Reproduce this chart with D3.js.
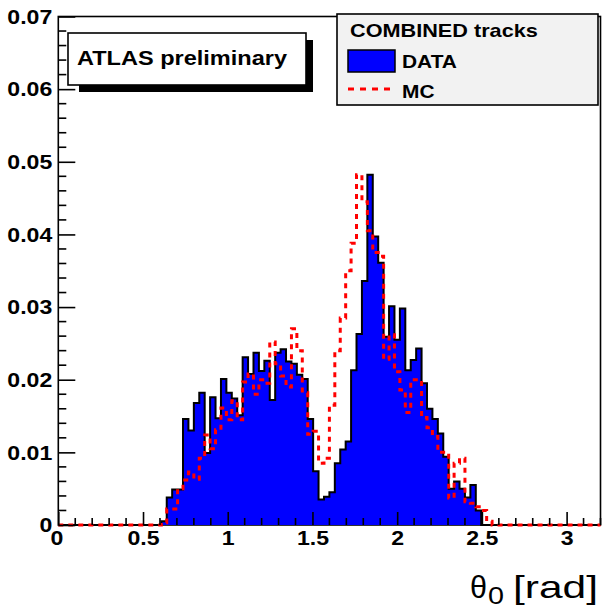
<!DOCTYPE html>
<html>
<head>
<meta charset="utf-8">
<script src="https://cdn.jsdelivr.net/npm/d3@7"></script>
<style>
  body { margin: 0; background: #fff; }
  text { font-family: "Liberation Sans", Arial, sans-serif; }
</style>
</head>
<body>
<svg id="chart" width="605" height="610"></svg>
<script>
// histogram binning: 100 bins over [0, 3.2]
var nBins = 100, xMin = 0, xMax = 3.2;

// DATA (filled blue), one value per bin
var dataVals = [
  0,0,0,0,0,0,0,0,0,0, 0,0,0,0,0,0,0,0,0,0.0005,
  0.0038,0.0049,0.0049,0.0146,0.0130,0.0168,0.0182,0.0099,0.0176,0.0147,
  0.0201,0.0182,0.0174,0.0151,0.0231,0.0208,0.0237,0.0212,0.0226,0.0172,
  0.0237,0.0242,0.0225,0.0222,0.0207,0.0201,0.0146,0.0074,0.0035,0.0039,
  0.0045,0.0085,0.0104,0.0115,0.0213,0.0263,0.0336,0.0482,0.0397,0.0361,
  0.0259,0.0301,0.0255,0.0298,0.0213,0.0227,0.0243,0.0195,0.0160,0.0146,
  0.0126,0.0094,0.0050,0.0060,0.0050,0.0038,0.0055,0.0020,0,0,
  0,0,0,0,0,0,0,0,0,0, 0,0,0,0,0,0,0,0,0,0
];

// MC (red dashed), one value per bin
var mcVals = [
  0,0,0,0,0,0,0,0,0,0, 0,0,0,0,0,0,0,0,0,0.0003,
  0.0022,0.0022,0.0050,0.0062,0.0073,0.0063,0.0092,0.0124,0.0105,0.0131,
  0.0161,0.0145,0.0171,0.0145,0.0197,0.0208,0.0180,0.0200,0.0195,0.0252,
  0.0222,0.0205,0.0190,0.0270,0.0240,0.0182,0.0125,0.0129,0.0085,0.0092,
  0.0165,0.0240,0.0285,0.0350,0.0388,0.0482,0.0445,0.0405,0.0375,0.0370,
  0.0228,0.0262,0.0211,0.0186,0.0155,0.0200,0.0200,0.0148,0.0134,0.0122,
  0.0100,0.0100,0.0037,0.0085,0.0092,0.0032,0.0030,0.0025,0.0020,0.0005,
  0,0,0,0,0,0,0,0,0,0, 0,0,0,0,0,0,0,0,0,0
];

var yTicks = [0, 0.01, 0.02, 0.03, 0.04, 0.05, 0.06, 0.07];
var xTicks = [0, 0.5, 1, 1.5, 2, 2.5, 3];
var legendTitle = "COMBINED tracks";
var legendLabels = ["DATA", "MC"];
var plotLabel = "ATLAS preliminary";

var svg = d3.select("#chart");
var x = d3.scaleLinear().domain([xMin, xMax]).range([58.3, 600.5]);
var y = d3.scaleLinear().domain([0, 0.07]).range([525, 16.5]);
var bw = (xMax - xMin) / nBins;

// stretch text a bit wider, like the original rendering
function stretch(sel, k) {
  sel.each(function () {
    var w = this.getComputedTextLength();
    d3.select(this).attr("textLength", w * k).attr("lengthAdjust", "spacingAndGlyphs");
  });
}

function binPoints(vals) {
  var p = vals.map(function (v, i) { return [xMin + i * bw, v]; });
  p.push([xMax, vals[vals.length - 1]]);
  return p;
}

// frame
svg.append("rect")
  .attr("x", x(xMin)).attr("y", y(0.07))
  .attr("width", x(xMax) - x(xMin)).attr("height", y(0) - y(0.07))
  .attr("fill", "none").attr("stroke", "#000").attr("stroke-width", 1.6);

// data histogram
var area = d3.area().curve(d3.curveStepAfter)
  .x(function (d) { return x(d[0]); })
  .y0(y(0))
  .y1(function (d) { return y(d[1]); });
var line = d3.line().curve(d3.curveStepAfter)
  .x(function (d) { return x(d[0]); })
  .y(function (d) { return y(d[1]); });

svg.append("path").attr("d", area(binPoints(dataVals)))
  .attr("fill", "#0000ff");
svg.append("path").attr("d", line(binPoints(dataVals)))
  .attr("fill", "none").attr("stroke", "#000").attr("stroke-width", 2);

// MC histogram
svg.append("path").attr("d", line(binPoints(mcVals)))
  .attr("fill", "none").attr("stroke", "#ff0000").attr("stroke-width", 3)
  .attr("stroke-dasharray", "5,5");

// y axis (ticks inside)
var gy = svg.append("g").attr("transform", "translate(" + x(xMin) + ",0)")
  .call(d3.axisLeft(y).tickValues(yTicks).tickSize(-17).tickPadding(6)
    .tickFormat(function (d) { return d === 0 ? "0" : d.toFixed(2); }));
gy.select(".domain").remove();
gy.selectAll(".tick line").attr("stroke", "#000").attr("stroke-width", 1.6);
gy.selectAll(".tick text").attr("font-size", 21).attr("font-weight", "bold")
  .attr("font-family", "Liberation Sans, Arial, sans-serif").attr("fill", "#000")
  .call(stretch, 1.1);

var yMinor = d3.range(0, 36).map(function (i) { return i * 0.002; })
  .filter(function (d, i) { return i % 5 !== 0; });
svg.append("g").selectAll("line").data(yMinor).enter().append("line")
  .attr("x1", x(xMin)).attr("x2", x(xMin) + 8)
  .attr("y1", function (d) { return y(d); }).attr("y2", function (d) { return y(d); })
  .attr("stroke", "#000").attr("stroke-width", 1.6);

// x axis (ticks inside)
var gx = svg.append("g").attr("transform", "translate(0," + y(0) + ")")
  .call(d3.axisBottom(x).tickValues(xTicks).tickSize(-13).tickPadding(5)
    .tickFormat(function (d) { return String(d); }));
gx.select(".domain").remove();
gx.selectAll(".tick line").attr("stroke", "#000").attr("stroke-width", 1.6);
gx.selectAll(".tick text").attr("font-size", 21).attr("font-weight", "bold")
  .attr("font-family", "Liberation Sans, Arial, sans-serif").attr("fill", "#000")
  .call(stretch, 1.1);
gx.selectAll(".tick text").filter(function (d) { return d === 0; }).attr("dx", -2);

var xMinor = d3.range(0, 33).map(function (i) { return i * 0.1; })
  .filter(function (d, i) { return i % 5 !== 0; });
svg.append("g").selectAll("line").data(xMinor).enter().append("line")
  .attr("x1", function (d) { return x(d); }).attr("x2", function (d) { return x(d); })
  .attr("y1", y(0)).attr("y2", y(0) - 7)
  .attr("stroke", "#000").attr("stroke-width", 1.6);

// ATLAS preliminary box with shadow
svg.append("rect").attr("x", 79).attr("y", 40).attr("width", 234).attr("height", 52).attr("fill", "#000");
svg.append("rect").attr("x", 68).attr("y", 33).attr("width", 238).attr("height", 52)
  .attr("fill", "#fff").attr("stroke", "#000").attr("stroke-width", 1.6);
svg.append("text").attr("x", 77).attr("y", 65).text(plotLabel)
  .attr("font-size", 21).attr("font-weight", "bold").call(stretch, 1.12);

// legend
var lg = svg.append("g");
lg.append("rect").attr("x", 337).attr("y", 14).attr("width", 261).attr("height", 91)
  .attr("fill", "#f2f2f2").attr("stroke", "#000").attr("stroke-width", 1.6);
lg.append("text").attr("x", 350).attr("y", 37).text(legendTitle)
  .attr("font-size", 19).attr("font-weight", "bold").call(stretch, 1.14);
lg.append("rect").attr("x", 348).attr("y", 50).attr("width", 47).attr("height", 22)
  .attr("fill", "#0000ff").attr("stroke", "#000").attr("stroke-width", 1.5);
lg.append("line").attr("x1", 348).attr("x2", 392).attr("y1", 89).attr("y2", 89)
  .attr("stroke", "#ff0000").attr("stroke-width", 3).attr("stroke-dasharray", "6,6");
lg.selectAll("text.lab").data(legendLabels).enter().append("text").attr("class", "lab")
  .attr("x", 402).attr("y", function (d, i) { return 68 + i * 30; })
  .text(function (d) { return d; })
  .attr("font-size", 19).attr("font-weight", "bold").call(stretch, 1.1);

// x axis title
svg.append("text").attr("x", 470).attr("y", 598).text("θ")
  .attr("font-family", "Liberation Serif, serif").attr("font-size", 32)
  .attr("textLength", 17).attr("lengthAdjust", "spacingAndGlyphs");
svg.append("text").attr("x", 488).attr("y", 604).text("0")
  .attr("font-size", 24).attr("textLength", 16).attr("lengthAdjust", "spacingAndGlyphs");
svg.append("text").attr("x", 513).attr("y", 598).text("[rad]")
  .attr("font-size", 32).attr("textLength", 85).attr("lengthAdjust", "spacingAndGlyphs");
</script>
</body>
</html>
